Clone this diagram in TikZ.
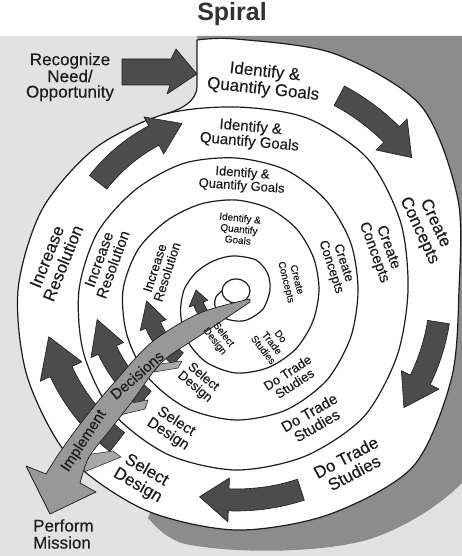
\documentclass[tikz,border=0pt]{standalone}
\usepackage{fontspec}
\setmainfont{Liberation Sans}
\newfontfamily\lblfont{Liberation Sans}[FakeBold=0.25]
\usetikzlibrary{calc}

\definecolor{bglight}{RGB}{226,226,226}
\definecolor{shadowgray}{RGB}{140,140,140}
\definecolor{arrowdark}{RGB}{76,76,76}
\definecolor{shaftgray}{RGB}{152,152,152}
\definecolor{wedgegray}{RGB}{168,168,168}
\definecolor{ink}{RGB}{28,28,28}

\tikzset{
  spiralline/.style={draw=ink, line width=1.2pt, line join=round},
  darkarrow/.style={fill=arrowdark, draw=ink, line width=0.6pt, line join=round},
  shaft/.style={fill=shaftgray, draw=ink, line width=0.7pt, line join=round},
  wedge/.style={fill=wedgegray, draw=ink, line width=0.5pt, line join=round},
  lbl/.style={text=ink, align=center, inner sep=0pt},
  fA/.style={font=\lblfont\fontsize{17}{17.5}\selectfont},
  fB/.style={font=\lblfont\fontsize{15}{15}\selectfont},
  fC/.style={font=\lblfont\fontsize{13}{13}\selectfont},
  fD/.style={font=\lblfont\fontsize{10}{11}\selectfont},
}

% curved block arrow around a centre: cx, cy, radius, tail angle,
% head-base angle, tip angle, half body width, half head width
\newcommand{\bandarrow}[8]{%
  \filldraw[darkarrow]
    plot[domain=#4:#5, samples=14, variable=\t] ({#1+(#3+#7)*cos(\t)},{#2+(#3+#7)*sin(\t)})
    -- ({#1+(#3+#8)*cos(#5)},{#2+(#3+#8)*sin(#5)})
    -- ({#1+#3*cos(#6)},{#2+#3*sin(#6)})
    -- ({#1+(#3-#8)*cos(#5)},{#2+(#3-#8)*sin(#5)})
    -- plot[domain=#5:#4, samples=14, variable=\t] ({#1+(#3-#7)*cos(\t)},{#2+(#3-#7)*sin(\t)})
    -- cycle;}

\begin{document}
\begin{tikzpicture}[x=1pt,y=-1pt]
\useasboundingbox (0,0) rectangle (462,556);
\fill[white] (0,0) rectangle (462,556);
\fill[bglight] (0,36) rectangle (462,556);

% shadow behind the spiral
\fill[shadowgray] (197,36) -- (462,36) -- (462,483)
  .. controls (440,505) and (405,528) .. (367,540)
  .. controls (320,553) and (235,554) .. (185,544)
  .. controls (170,540) and (158,530) .. (148,518) -- (236,300) -- cycle;

% white body of the spiral
\fill[white] plot[smooth] coordinates {(197,40) (236,39) (334,53.5) (420.6,105.4) (457.7,198.2) (459,290) (451.3,379.2) (412.8,466.8) (329,514.5) (236,530) (144.9,509.9) (69.1,456.9) (27.2,376.5) (18,290) (42,209.6) (94.6,148.6) (163.3,114.5)}
  .. controls (180,110) and (197,102) .. (197,86) -- cycle;

% the spiral line, clockwise inward
\draw[spiralline] plot[smooth] coordinates {
  (197,40) (236,39) (334,53.5) (420.6,105.4) (457.7,198.2) (459,290) (451.3,379.2) (412.8,466.8) (329,514.5) (236,530) (144.9,509.9) (69.1,456.9) (27.2,376.5) (18,290) (42,209.6) (94.6,148.6) (163.3,114.5)
  (236,107) (307.2,118.2) (367.5,158.5) (400.5,221.9) (408,290) (396.8,356.6) (363.3,417.3) (304.9,456.3) (236,470) (167.9,454.5) (113,413) (83.6,353.1) (79,290) (97.4,232.6) (135.6,189.6) (183.6,163.4)
  (236,158) (285.8,169.9) (325.8,200.2) (350.6,242.5) (358,290) (350.6,337.5) (326.5,380.5) (285.8,410.1) (236,420) (187,408.3) (148.3,377.7) (127,335.2) (123,290) (138.1,249.4) (166.7,220.7) (200.4,204.1)
  (236,200) (269.7,208.7) (296.8,229.2) (313.6,257.9) (319,290) (312.7,321.8) (295.4,349.4) (268.1,367.6) (236,373) (206.1,362.1) (186.5,339.5) (180.6,313) (184,290) (195.3,273.2) (209.1,263.1) (222.6,257.7)
  (236,256) (256,260) (267.5,273) (270,290) (263,309) (248,319.5) (236,321) (222,317) (215,306) (216,297) (222,291)};
\draw[spiralline] (197,40) -- (197,86) .. controls (197,102) and (180,110) .. (163.3,114.5);
\draw[spiralline] (236,291) ellipse [x radius=14, y radius=12];

% entry arrow
\filldraw[darkarrow] (122,59) -- (171,59) -- (176,49) -- (197,74) -- (167,94) -- (170,85) -- (122,85) -- cycle;

% arrows running round the bands
\bandarrow{236}{290}{220}{-62}{-45}{-37}{11}{22}
\bandarrow{236}{290}{205}{9}{26}{35}{11}{21}
\bandarrow{236}{290}{210}{72}{92}{100}{11}{22}
\bandarrow{236}{290}{175}{218}{242}{252}{11}{21}
\bandarrow{236}{290}{193}{128}{155}{166}{12}{23}
\bandarrow{236}{290}{142}{130}{155}{168}{10}{18}
\bandarrow{236}{290}{90}{130}{157}{173}{8}{14}
\bandarrow{236}{290}{40}{125}{160}{180}{5}{10}

% branches feeding the decision arrow
\filldraw[wedge] (85,455) -- (113,451) -- (121,457) -- (84,472) -- cycle;
\filldraw[wedge] (126,404) -- (148,400) -- (145,409) -- (120,415) -- cycle;
\filldraw[wedge] (160,364) -- (182,361) -- (178,368) -- (154,372) -- cycle;

% implement decisions arrow
\filldraw[shaft] (250,299) -- plot[smooth] coordinates {(250,299) (200,313) (152,342) (112,385) (84,419) (60,452) (46,474)}
  -- (26,466) -- (50,514) -- (96,492) -- (80,483)
  -- plot[smooth] coordinates {(80,483) (89,457) (110,430) (134,399) (162,362) (207,331) (250,302)} -- cycle;
\node[lbl, font=\lblfont\fontsize{15}{15}\selectfont, rotate=57] (impl1) at (84,441) {Implement};
\node[lbl, font=\lblfont\fontsize{15}{15}\selectfont, rotate=41] (impl2) at (137,375) {Decisions};

% title and outside labels
\node[font=\fontsize{25}{25}\selectfont\bfseries, text=black!80, inner sep=0pt] (title) at (232,14) {Spiral};
\node[lbl, font=\lblfont\fontsize{17}{15.5}\selectfont] (recognize) at (70,77) {Recognize\\Need/\\Opportunity};
\node[lbl, font=\lblfont\fontsize{17}{17}\selectfont, align=left, anchor=west] (perform) at (33,534) {Perform\\Mission};

% outer band
\node[lbl, fA, rotate=-6] (goals1) at (264,81) {Identify \&\\Quantify Goals};
\node[lbl, fA, rotate=-65] (create1) at (427,227) {Create\\Concepts};
\node[lbl, fA, rotate=28] (trade1) at (350,465) {Do Trade\\Studies};
\node[lbl, fA, rotate=-30] (select1) at (142,478) {Select\\Design};
\node[lbl, fA, rotate=68] (incr1) at (55,260) {Increase\\Resolution};

% second band
\node[lbl, fB, rotate=-5] (goals2) at (250,135) {Identify \&\\Quantify Goals};
\node[lbl, fB, rotate=-70] (create2) at (381,250) {Create\\Concepts};
\node[lbl, fB, rotate=30] (trade2) at (313,419) {Do Trade\\Studies};
\node[lbl, fB, rotate=-33] (select2) at (172,428) {Select\\Design};
\node[lbl, fB, rotate=70] (incr2) at (106,262) {Increase\\Resolution};

% third band
\node[lbl, fC, rotate=-4] (goals3) at (242,180) {Identify \&\\Quantify Goals};
\node[lbl, fC, rotate=-72] (create3) at (337,265) {Create\\Concepts};
\node[lbl, fC, rotate=33] (trade3) at (291,378) {Do Trade\\Studies};
\node[lbl, fC, rotate=-40] (select3) at (199,382) {Select\\Design};
\node[lbl, fC, rotate=72] (incr3) at (161,270) {Increase\\Resolution};

% innermost band
\node[lbl, fD, rotate=-6] (goals4) at (239,229) {Identify \&\\Quantify\\Goals};
\node[lbl, fD, rotate=-76] (create4) at (291,281) {Create\\Concepts};
\node[lbl, fD, rotate=-52] (trade4) at (272,343) {Do\\Trade\\Studies};
\node[lbl, fD, rotate=-52] (select4) at (219,338) {Select\\Design};
\end{tikzpicture}
\end{document}
